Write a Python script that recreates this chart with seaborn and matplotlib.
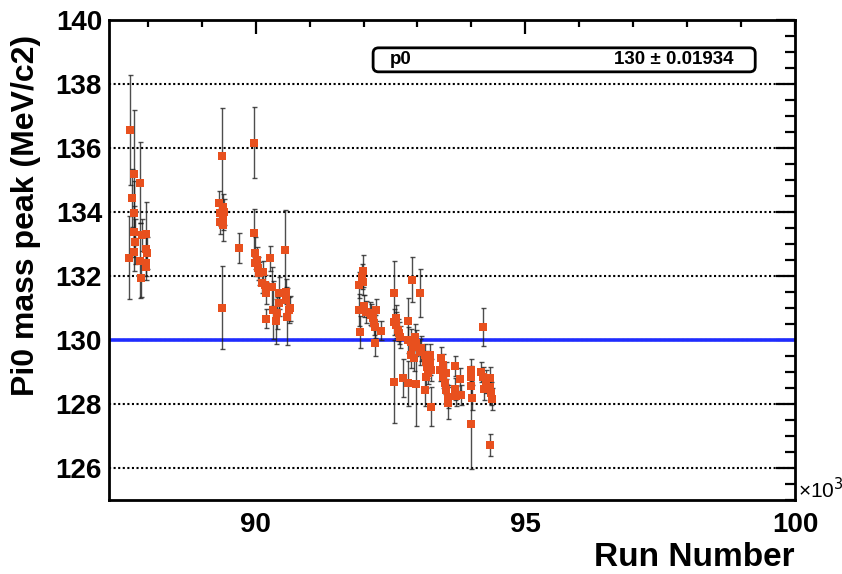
import matplotlib
matplotlib.use("Agg")
import matplotlib.pyplot as plt
from matplotlib.patches import FancyBboxPatch
from matplotlib.ticker import MultipleLocator, FuncFormatter
import numpy as np
import pandas as pd
import seaborn as sns

# Per-run fitted pi0 peak positions (MeV/c2) with their fit uncertainties
run_number = [
    87656, 87674, 87700, 87737, 87748, 87745, 87761, 87737, 87849, 87849,
    87873, 87891, 87970, 87960, 87978, 87965, 87975,
    89378, 89378, 89323, 89335, 89335, 89385, 89397, 89410, 89385, 89693,
    89960, 89960, 89984, 90015, 89984, 90045, 90063, 90137, 90108, 90169,
    90200, 90261, 90311, 90322, 90182, 90373, 90404, 90434, 90434, 90552,
    90558, 90571, 90582, 90619, 90645,
    91989, 91971, 91989, 91915, 91915, 91930, 92002, 92052, 92113, 92145,
    92174, 92187, 92224, 92206, 92219, 92317, 92558, 92558, 92563, 92608,
    92595, 92637, 92656, 92669, 92730, 92823, 92830, 92904, 92978, 93052,
    92823, 92886, 92915, 92947, 92978, 92886, 92928, 93039, 93071, 93132,
    93150, 93174, 93193, 93224, 93237, 93256, 93132, 93163, 93256, 93441,
    93410, 93471, 93502, 93534, 93563, 93563, 93471, 93521, 93687, 93687,
    93719, 93793, 93811, 93984, 93997, 93984, 93997, 94015, 94182, 94211,
    94224, 94230, 94274, 94336, 94349, 94367, 94386, 94349,
]
peak_mass = [
    132.57, 136.56, 134.44, 133.97, 135.19, 133.38, 133.07, 132.76, 134.92, 132.48,
    131.94, 133.28, 133.31, 132.84, 132.72, 132.28, 132.40,
    135.75, 131.01, 134.27, 133.96, 133.70, 134.17, 133.85, 134.00, 133.60, 132.88,
    136.17, 133.35, 132.71, 132.50, 132.40, 132.24, 132.08, 132.13, 131.77, 131.72,
    131.46, 132.55, 131.67, 130.94, 130.66, 130.59, 130.83, 131.46, 131.15, 132.81,
    131.51, 131.25, 130.73, 130.94, 130.99,
    132.17, 131.98, 131.82, 131.72, 130.94, 130.24, 131.06, 130.88, 130.83, 130.78,
    130.68, 130.52, 130.94, 130.42, 129.90, 130.29, 131.48, 128.70, 130.57, 130.68,
    130.47, 130.31, 130.21, 130.10, 128.82, 130.60, 128.65, 131.88, 128.62, 131.48,
    130.00, 129.95, 129.79, 130.10, 129.90, 129.53, 129.43, 129.63, 129.74, 129.53,
    129.32, 129.17, 128.96, 129.27, 129.53, 129.06, 128.44, 128.85, 127.92, 129.43,
    129.06, 128.85, 128.65, 128.44, 128.23, 128.02, 129.22, 128.96, 129.19, 128.46,
    128.25, 128.77, 128.28, 129.06, 128.85, 128.56, 127.38, 128.20, 129.00, 128.85,
    130.40, 128.46, 128.70, 128.80, 128.54, 128.33, 128.15, 126.72,
]
peak_err = [
    1.30, 1.72, 0.90, 1.00, 2.00, 0.80, 0.70, 0.60, 1.27, 1.17,
    0.60, 0.50, 1.00, 0.50, 0.50, 0.40, 0.40,
    1.50, 1.30, 0.40, 0.40, 0.40, 0.40, 0.40, 0.40, 0.50, 0.47,
    1.10, 0.75, 0.50, 0.40, 0.40, 0.35, 0.35, 0.35, 0.30, 0.30,
    0.35, 0.40, 0.60, 0.90, 0.30, 0.70, 0.50, 0.50, 0.40, 1.25,
    0.40, 0.40, 0.90, 0.40, 0.40,
    0.50, 0.40, 0.40, 0.40, 0.50, 0.50, 0.35, 0.35, 0.35, 0.35,
    0.35, 0.35, 0.35, 0.35, 0.40, 0.30, 1.00, 1.30, 0.40, 0.40,
    0.40, 0.35, 0.35, 0.35, 0.60, 0.70, 0.70, 0.70, 1.30, 0.75,
    0.40, 0.40, 0.40, 0.40, 0.40, 0.40, 0.40, 0.40, 0.40, 0.35,
    0.35, 0.35, 0.35, 0.35, 0.35, 0.35, 0.50, 0.35, 0.60, 0.35,
    0.35, 0.35, 0.35, 0.35, 0.35, 0.50, 0.35, 0.35, 0.30, 0.35,
    0.30, 0.35, 0.30, 0.35, 0.35, 0.35, 1.40, 0.40, 0.30, 0.30,
    0.60, 0.35, 0.35, 0.35, 0.35, 0.35, 0.35, 0.35,
]

# Constant fit result
fit_p0 = 130.0
fit_p0_err = 0.01934

x_ticks = [90000, 95000, 100000]
y_ticks = [126, 128, 130, 132, 134, 136, 138, 140]

df = pd.DataFrame({"run": run_number, "mass": peak_mass, "err": peak_err})

sns.set_theme(style="white")
plt.rcParams["font.family"] = ["Liberation Sans", "DejaVu Sans"]
plt.rcParams["text.color"] = "black"

fig = plt.figure(figsize=(8.42, 5.74), dpi=100)
ax = fig.add_axes([109 / 842, 1 - 500 / 574, 686 / 842, 480 / 574])

# horizontal dotted grid
for yv in y_ticks[:-1]:
    ax.axhline(yv, color="black", lw=1.5, ls=(0, (1, 1.2)), zorder=1)

# fitted constant
ax.axhline(fit_p0, color="#1f2cff", lw=2.6, zorder=2)

ax.errorbar(df["run"], df["mass"], yerr=df["err"], fmt="none",
            ecolor="#222222", elinewidth=1.0, capsize=1.8, capthick=1.0,
            alpha=0.8, zorder=3)
sns.scatterplot(data=df, x="run", y="mass", marker="s", color="#e8501e",
                s=28, linewidth=0, ax=ax, zorder=4, legend=False)

ax.set_xlim(87280, 100000)
ax.set_ylim(125, 140)
ax.set_xlabel("")
ax.set_ylabel("")

ax.set_xticks(x_ticks)
ax.xaxis.set_minor_locator(MultipleLocator(1000))
ax.xaxis.set_major_formatter(FuncFormatter(lambda v, p: f"{v / 1000:g}"))
ax.set_yticks(y_ticks)
ax.yaxis.set_minor_locator(MultipleLocator(0.5))

ax.tick_params(axis="both", which="both", direction="in", top=True, right=True,
               colors="black", width=1.6)
ax.tick_params(axis="x", which="major", length=10, pad=9, labelsize=20)
ax.tick_params(axis="x", which="minor", length=5)
ax.tick_params(axis="y", which="major", length=14, pad=5, labelsize=20)
ax.tick_params(axis="y", which="minor", length=7)
for lab in ax.get_xticklabels() + ax.get_yticklabels():
    lab.set_fontweight("bold")
    lab.set_color("black")

for sp in ax.spines.values():
    sp.set_color("black")
    sp.set_linewidth(2.0)

# fit statistics box
box = FancyBboxPatch((0.385, 0.892), 0.557, 0.050, transform=ax.transAxes,
                     boxstyle="round,pad=0,rounding_size=0.008",
                     facecolor="white", edgecolor="black", lw=2.0, zorder=6,
                     mutation_aspect=1.4)
ax.add_patch(box)
ax.text(0.410, 0.917, "p0", transform=ax.transAxes, ha="left", va="center",
        fontsize=13.5, fontweight="bold", color="black", zorder=7)
ax.text(0.910, 0.917, f"{fit_p0:g} \u00b1 {fit_p0_err:.5f}", transform=ax.transAxes,
        ha="right", va="center", fontsize=13.5, fontweight="bold", color="black",
        zorder=7)

fig.text(26 / 842, 1 - 215 / 574, "Pi0 mass peak (MeV/c2)", rotation=90,
         ha="center", va="center", fontsize=23, fontweight="bold", color="black")
fig.text(795 / 842, 1 - 557 / 574, "Run Number", ha="right", va="center",
         fontsize=24, fontweight="bold", color="black")
fig.text(798 / 842, 1 - 490 / 574, "\u00d710$^{3}$", ha="left", va="center",
         fontsize=15, color="black")

fig.savefig("out.png", dpi=100)
